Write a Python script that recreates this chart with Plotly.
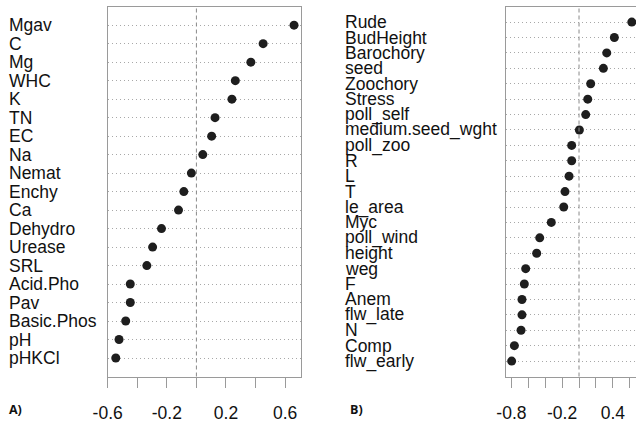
import plotly.graph_objects as go

# Panel A data (top to bottom)
names_a = ["Mgav", "C", "Mg", "WHC", "K", "TN", "EC", "Na", "Nemat", "Enchy", "Ca",
           "Dehydro", "Urease", "SRL", "Acid.Pho", "Pav", "Basic.Phos", "pH", "pHKCl"]
vals_a = [0.660, 0.451, 0.368, 0.263, 0.240, 0.126, 0.103, 0.043, -0.034, -0.085, -0.121,
          -0.236, -0.296, -0.335, -0.447, -0.447, -0.478, -0.523, -0.545]

# Panel B data (top to bottom)
names_b = ["Rude", "BudHeight", "Barochory", "seed", "Zoochory", "Stress", "poll_self",
           "medium.seed_wght", "poll_zoo", "R", "L", "T", "le_area", "Myc", "poll_wind",
           "height", "weg", "F", "Anem", "flw_late", "N", "Comp", "flw_early"]
vals_b = [0.624, 0.418, 0.328, 0.288, 0.138, 0.103, 0.079, 0.004, -0.087, -0.087, -0.118,
          -0.166, -0.181, -0.328, -0.465, -0.501, -0.631, -0.647, -0.675, -0.675, -0.686,
          -0.765, -0.797]

ticks_a = [-0.6, -0.4, -0.2, 0.0, 0.2, 0.4, 0.6]
ticklabels_a = ["-0.6", "", "-0.2", "", "0.2", "", "0.6"]
ticks_b = [-0.8, -0.6, -0.4, -0.2, 0.0, 0.2, 0.4, 0.6]
ticklabels_b = ["-0.8", "", "", "-0.2", "", "", "0.4", ""]

panel_labels = ["A)", "B)"]

W, H = 636, 423
FONT = "Liberation Sans, Arial, sans-serif"
BOXC = "#9a9a9a"
GRIDC = "#a8a8a8"
DOTC = "#1e1e1e"
FS = 17.5

pos_a = [len(names_a) - i for i in range(len(names_a))]
pos_b = [len(names_b) - i for i in range(len(names_b))]

ydom = [1 - 376.5 / H, 1 - 6.7 / H]

fig = go.Figure()
fig.add_trace(go.Scatter(x=vals_a, y=pos_a, mode="markers", xaxis="x", yaxis="y",
                         marker=dict(size=9, color=DOTC), showlegend=False, hoverinfo="skip"))
fig.add_trace(go.Scatter(x=vals_b, y=pos_b, mode="markers", xaxis="x2", yaxis="y2",
                         marker=dict(size=9, color=DOTC), showlegend=False, hoverinfo="skip"))

common_x = dict(showgrid=False, zeroline=False, showline=True, linecolor=BOXC, linewidth=1,
                ticks="outside", ticklen=10, tickcolor=BOXC, tickwidth=1,
                tickfont=dict(family=FONT, size=FS, color="#111"),
                ticklabelstandoff=10, fixedrange=True, automargin=False)
common_y = dict(showgrid=True, griddash="1px,3px", gridcolor=GRIDC, gridwidth=1,
                zeroline=False, showline=True, linecolor=BOXC, linewidth=1,
                showticklabels=False, ticks="", fixedrange=True, automargin=False)

fig.update_layout(
    width=W, height=H,
    margin=dict(l=0, r=0, t=0, b=0),
    paper_bgcolor="white", plot_bgcolor="white",
    xaxis=dict(domain=[107.5 / W, 300.7 / W], range=[-0.601, 0.705], anchor="y",
               tickvals=ticks_a, ticktext=ticklabels_a, mirror=True, **common_x),
    yaxis=dict(domain=ydom, range=[0, len(names_a) + 1], anchor="x",
               tickvals=pos_a, mirror=True, **common_y),
    xaxis2=dict(domain=[506 / W, 1.0], range=[-0.864, 0.674], anchor="y2",
                tickvals=ticks_b, ticktext=ticklabels_b, mirror=True, **common_x),
    yaxis2=dict(domain=ydom, range=[0, len(names_b) + 1], anchor="x2",
                tickvals=pos_b, mirror=False, **common_y),
)

# dashed vertical line at zero
for xr, yr in [("x", "y domain"), ("x2", "y2 domain")]:
    fig.add_shape(type="line", xref=xr, yref=yr, x0=0, x1=0, y0=0, y1=1,
                  line=dict(color="#8a8a8a", width=1, dash="4px,3px"))

annotations = []
for n, p in zip(names_a, pos_a):
    annotations.append(dict(text=n, xref="paper", yref="y", x=7 / W, y=p,
                            xanchor="left", yanchor="middle", showarrow=False,
                            font=dict(family=FONT, size=FS, color="#111")))
for n, p in zip(names_b, pos_b):
    annotations.append(dict(text=n, xref="paper", yref="y2", x=343 / W, y=p,
                            xanchor="left", yanchor="middle", showarrow=False,
                            font=dict(family=FONT, size=FS, color="#111")))
for lab, xp in zip(panel_labels, [7 / W, 348 / W]):
    annotations.append(dict(text="<b>" + lab + "</b>", xref="paper", yref="paper",
                            x=xp, y=1 - 409 / H, xanchor="left", yanchor="middle",
                            showarrow=False,
                            font=dict(family="Open Sans, sans-serif", size=12.5, color="#111")))
fig.update_layout(annotations=annotations)

fig.write_html("out.html", config={"displayModeBar": False, "staticPlot": True},
               post_script="document.body.style.margin='0px';document.body.style.overflow='hidden';")
